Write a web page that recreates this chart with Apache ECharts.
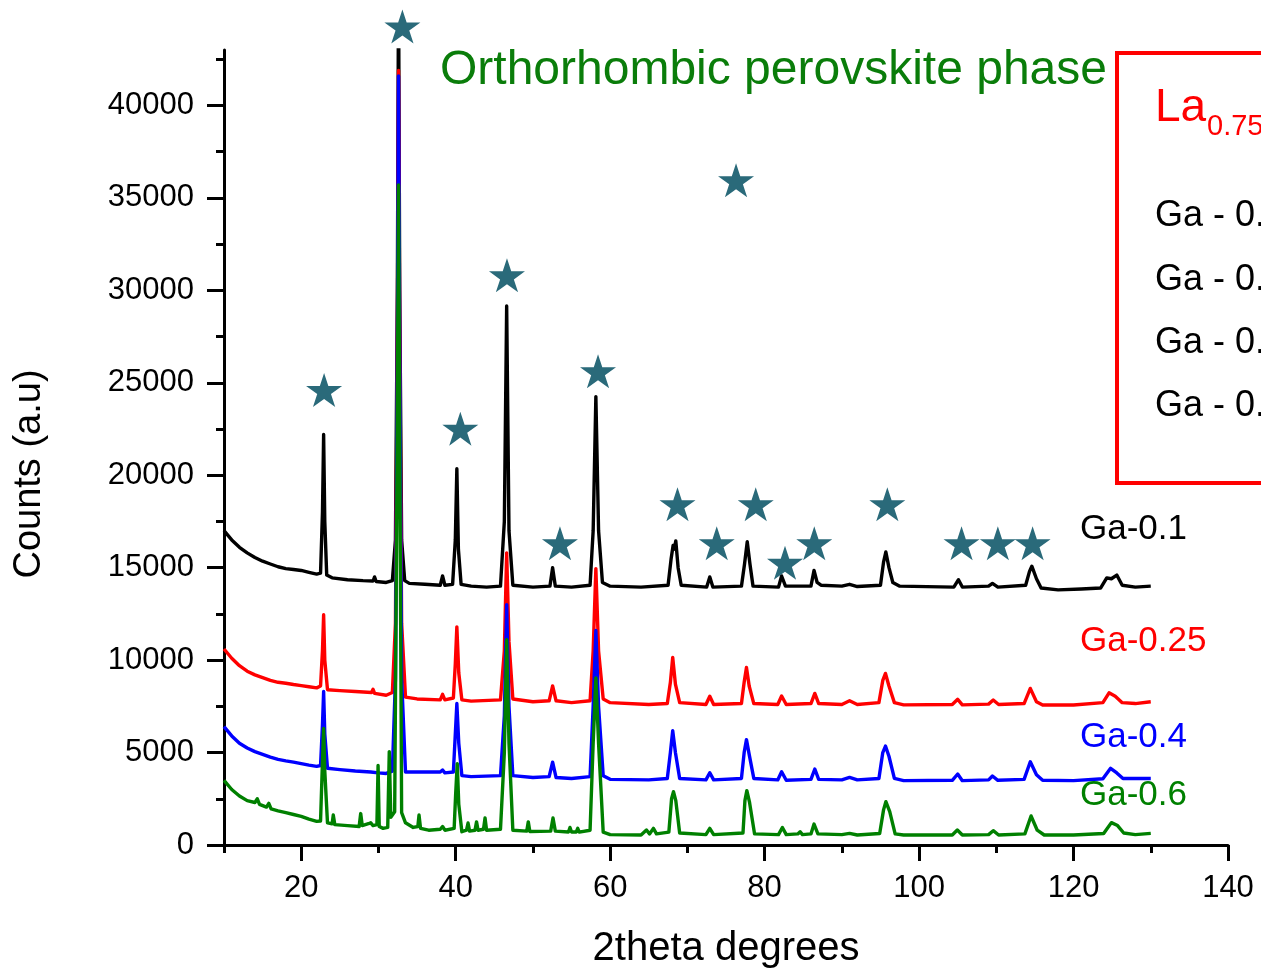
<!DOCTYPE html>
<html>
<head>
<meta charset="utf-8">
<script src="https://cdn.jsdelivr.net/npm/echarts@6/dist/echarts.min.js"></script>
<style>
html, body { margin: 0; padding: 0; background: #fff; }
#main { width: 1261px; height: 968px; }
</style>
</head>
<body>
<div id="main"></div>
<script>
// tick values
var xMajor = [20, 40, 60, 80, 100, 120, 140];
var xMinor = [10, 30, 50, 70, 90, 110, 130];
var yMajor = [0, 5000, 10000, 15000, 20000, 25000, 30000, 35000, 40000];
var yMinor = [2500, 7500, 12500, 17500, 22500, 27500, 32500, 37500, 42500];

// Ga-0.1 (black)
var ga01 = [[10,17000],[11,16500],[12,16100],[13,15800],[14,15550],[15,15350],[16,15200],[17,15050],[18,14950],[19,14900],[20,14850],[21,14750],[22,14650],[22.5,14700],[22.75,18000],[22.9,22200],[23.05,17500],[23.3,14600],[24,14450],[26,14350],[28,14300],[29.3,14280],[29.5,14500],[29.7,14250],[31,14200],[31.8,14300],[32.2,16500],[32.45,30000],[32.6,47000],[32.75,30000],[33.0,16500],[33.4,14300],[34,14150],[36,14100],[38,14050],[38.3,14550],[38.6,14050],[39.6,14100],[39.95,16500],[40.15,20350],[40.35,16000],[40.7,14100],[42,14000],[44,13950],[45.8,14000],[46.3,17500],[46.6,29150],[46.9,17000],[47.4,14050],[50,13950],[52.2,14000],[52.55,15000],[52.9,14000],[55,13950],[57.4,14050],[57.8,17000],[58.15,24250],[58.5,17000],[59.0,14200],[60,14000],[64,13950],[67.5,14050],[67.9,15500],[68.15,16200],[68.3,16000],[68.5,16450],[68.8,15000],[69.2,14050],[72.5,13950],[72.9,14500],[73.3,13950],[77.0,14000],[77.4,15200],[77.75,16400],[78.1,15200],[78.5,14000],[81.8,13950],[82.2,14550],[82.7,14000],[86.0,14000],[86.4,14850],[86.8,14200],[87.3,14050],[90,14000],[91,14100],[92,13980],[95.0,14050],[95.4,15300],[95.7,15850],[96.1,15000],[96.6,14200],[97.5,14000],[104.5,13950],[105.1,14350],[105.6,13950],[109.0,14000],[109.5,14150],[110.2,13950],[113.8,14050],[114.3,14800],[114.6,15080],[115.2,14400],[115.8,13900],[118,13800],[121,13850],[123.5,13900],[124.3,14450],[124.9,14400],[125.6,14600],[126.3,14050],[128,13950],[130,14000]];

// Ga-0.25 (red)
var ga025 = [[10,10600],[11,10100],[12,9700],[13,9400],[14,9200],[15,9050],[16,8900],[17,8800],[18,8750],[19,8680],[20,8620],[21,8560],[22,8500],[22.5,8600],[22.75,10500],[22.9,12450],[23.05,10000],[23.4,8400],[25,8350],[27,8300],[29.1,8250],[29.3,8420],[29.5,8200],[31,8100],[31.8,8250],[32.2,12000],[32.45,28000],[32.6,41900],[32.75,28000],[33.0,12000],[33.5,8000],[35,7900],[38.0,7850],[38.3,8150],[38.6,7850],[39.7,7950],[39.95,9800],[40.15,11800],[40.4,9300],[40.8,7850],[42,7780],[45.8,7850],[46.3,10500],[46.6,15800],[46.9,11000],[47.4,7900],[50,7750],[52.1,7800],[52.55,8600],[53.0,7800],[55,7700],[57.4,7800],[57.8,10500],[58.15,14950],[58.5,10500],[59.1,7900],[60,7700],[65,7600],[67.4,7650],[67.8,8800],[68.1,10150],[68.45,8700],[69.0,7700],[72.4,7600],[72.9,8050],[73.4,7600],[77.0,7650],[77.35,8800],[77.65,9600],[78.0,8600],[78.6,7650],[81.7,7600],[82.2,8060],[82.8,7600],[86.0,7650],[86.5,8200],[87.0,7650],[90.0,7600],[91.0,7800],[92.0,7600],[94.8,7700],[95.3,8900],[95.65,9280],[96.1,8600],[96.8,7700],[98,7580],[104.3,7600],[105.0,7880],[105.6,7580],[109.0,7620],[109.6,7840],[110.3,7600],[113.6,7650],[114.4,8470],[115.2,7750],[116.0,7570],[120,7570],[123.8,7700],[124.6,8230],[125.4,8050],[126.3,7700],[128,7650],[130,7750]];

// Ga-0.4 (blue)
var ga04 = [[10,6400],[11,5900],[12,5500],[13,5250],[14,5050],[15,4900],[16,4750],[17,4630],[18,4550],[19,4480],[20,4400],[21,4320],[22,4250],[22.5,4300],[22.75,6500],[22.9,8300],[23.05,6000],[23.4,4150],[25,4080],[27,4000],[29,3950],[30,3900],[31,3870],[31.8,4000],[32.2,9000],[32.45,27000],[32.6,41600],[32.75,27000],[33.0,9000],[33.5,3950],[35,3950],[38.0,3950],[38.3,4060],[38.6,3900],[39.7,3950],[39.95,6000],[40.15,7650],[40.4,5500],[40.8,3750],[42,3700],[45.8,3750],[46.3,7000],[46.6,13000],[46.9,7500],[47.4,3750],[50,3650],[52.1,3700],[52.55,4480],[53.0,3650],[55,3600],[57.4,3700],[57.8,7500],[58.15,11600],[58.5,7500],[59.1,3750],[60,3550],[65,3520],[67.4,3600],[67.8,5000],[68.1,6180],[68.45,5000],[69.0,3600],[72.4,3520],[72.9,3910],[73.4,3520],[77.0,3600],[77.35,5000],[77.65,5700],[78.0,4900],[78.6,3600],[81.7,3520],[82.2,3960],[82.8,3500],[86.0,3550],[86.5,4110],[87.0,3550],[90.0,3520],[91.0,3660],[92.0,3520],[94.8,3600],[95.3,5000],[95.65,5350],[96.1,4800],[96.8,3600],[98,3480],[104.3,3500],[105.0,3840],[105.6,3480],[109.0,3520],[109.5,3730],[110.2,3500],[113.6,3550],[114.4,4500],[115.2,3800],[116.0,3500],[120,3480],[123.8,3580],[124.8,4150],[125.6,3900],[126.4,3600],[130,3600]];

// Ga-0.6 (green)
var ga06 = [[10,3500],[11,3000],[12,2650],[13,2400],[14,2300],[14.3,2500],[14.6,2200],[15.5,2050],[15.8,2250],[16.1,1950],[17,1850],[18,1750],[19,1650],[20,1550],[21,1400],[22,1280],[22.5,1300],[22.75,4500],[22.9,6300],[23.05,4000],[23.4,1200],[24.0,1150],[24.15,1620],[24.35,1100],[26,1050],[27.5,1000],[27.7,1700],[27.9,1050],[28.7,1150],[29,1200],[29.3,1050],[29.8,1100],[29.95,4300],[30.1,1000],[30.6,900],[31.2,950],[31.4,5050],[31.6,1500],[32.1,1800],[32.4,20000],[32.6,35700],[32.8,18000],[33.0,1750],[33.5,1200],[34.5,950],[35.1,1000],[35.25,1620],[35.45,900],[36.5,800],[38.0,850],[38.3,1000],[38.6,800],[39.8,900],[40.0,2800],[40.2,4400],[40.4,2200],[40.8,720],[41.4,800],[41.6,1190],[41.8,750],[42.5,800],[42.7,1250],[42.9,800],[43.6,850],[43.8,1460],[44.0,800],[45.8,850],[46.3,5000],[46.6,11100],[46.9,5500],[47.4,800],[49.2,750],[49.4,1250],[49.6,730],[52.3,750],[52.6,1460],[52.9,750],[54.6,700],[54.8,950],[55.0,700],[55.6,700],[55.8,900],[56,700],[57.4,800],[57.8,5500],[58.15,9040],[58.5,5500],[59.1,700],[60,560],[64.0,540],[64.7,810],[65.1,600],[65.6,900],[66.0,600],[67.6,700],[67.95,2500],[68.2,2880],[68.5,2400],[69.0,650],[72.4,560],[72.9,900],[73.4,560],[77.2,650],[77.45,2400],[77.7,2940],[78.05,2300],[78.7,600],[81.8,560],[82.3,950],[82.8,560],[84.3,600],[84.6,720],[84.9,560],[86.0,600],[86.4,1130],[86.9,600],[90.0,560],[91.0,630],[92.0,540],[94.9,620],[95.4,1900],[95.7,2340],[96.2,1800],[96.9,600],[98,540],[104.3,540],[104.95,810],[105.6,540],[109.0,560],[109.6,775],[110.3,540],[113.7,600],[114.5,1570],[115.3,800],[116.2,540],[120,540],[123.9,620],[124.9,1210],[125.7,1050],[126.5,650],[128,560],[130,630]];

// star markers (orthorhombic perovskite reflections)
var stars = [[22.96,24610],[33.1,44270],[40.6,22520],[46.64,30810],[53.5,16320],[58.43,25620],[68.72,18430],[73.8,16320],[76.3,35950],[78.85,18430],[82.64,15260],[86.43,16320],[95.89,18430],[105.5,16320],[110.2,16320],[114.7,16320]];

var seriesNames = ['Ga-0.1', 'Ga-0.25', 'Ga-0.4', 'Ga-0.6'];
var seriesColors = ['#000000', '#ff0000', '#0000ff', '#008000'];
var legendRows = ['Ga - 0.1', 'Ga - 0.25', 'Ga - 0.4', 'Ga - 0.6'];

var FONT = '"Liberation Sans", Arial, sans-serif';
var starPath = 'path://M100,0 L122.45,69.1 L195.1,69.1 L136.3,111.8 L158.8,180.9 L100,138.2 L41.2,180.9 L63.7,111.8 L4.9,69.1 L77.55,69.1 Z';

var chart = echarts.init(document.getElementById('main'), null, {renderer: 'canvas'});

function lineSeries(name, data, color) {
	return {
		name: name,
		type: 'line',
		data: data,
		showSymbol: false,
		symbol: 'none',
		smooth: false,
		lineStyle: {color: color, width: 3.4, join: 'round'},
		itemStyle: {color: color},
		animation: false
	};
}

function txt(text, x, y, size, color) {
	return {
		type: 'text',
		x: x,
		y: y,
		z: 100,
		style: {
			text: text,
			font: size + 'px ' + FONT,
			fill: color,
			align: 'left',
			verticalAlign: 'middle',
			textAlign: 'left',
			textVerticalAlign: 'middle'
		}
	};
}

var graphics = [
	txt('Orthorhombic perovskite phase', 440, 71, 48, '#0a7d0a'),
	{
		type: 'rect',
		z: 90,
		shape: {x: 1117, y: 53, width: 300, height: 430},
		style: {fill: 'none', stroke: '#ff0000', lineWidth: 4}
	},
	txt('La', 1155, 108, 46, '#ff0000'),
	txt('0.75', 1207, 127, 29, '#ff0000'),
	{
		type: 'text',
		x: 30,
		y: 474,
		rotation: Math.PI / 2,
		z: 100,
		style: {
			text: 'Counts (a.u)',
			font: '38px ' + FONT,
			fill: '#000',
			align: 'center',
			verticalAlign: 'middle',
			textAlign: 'center',
			textVerticalAlign: 'middle'
		}
	}
];
var legendY = [216, 280, 343, 406];
for (var i = 0; i < legendRows.length; i++) {
	graphics.push(txt(legendRows[i], 1155, legendY[i], 36, '#000'));
}
var labelY = [529, 641, 737, 795];
for (var j = 0; j < seriesNames.length; j++) {
	graphics.push(txt(seriesNames[j], 1080, labelY[j], 35, seriesColors[j]));
}

var series = [];
series.push(lineSeries(seriesNames[0], ga01, seriesColors[0]));
series.push(lineSeries(seriesNames[1], ga025, seriesColors[1]));
series.push(lineSeries(seriesNames[2], ga04, seriesColors[2]));
series.push(lineSeries(seriesNames[3], ga06, seriesColors[3]));
series.push({
	name: 'stars',
	type: 'scatter',
	data: stars,
	symbol: starPath,
	symbolSize: [36, 34],
	clip: false,
	z: 5,
	itemStyle: {color: '#2a6a7a', opacity: 1},
	animation: false
});

function plain(v) { return String(v); }

chart.setOption({
	backgroundColor: '#ffffff',
	animation: false,
	grid: {left: 224, right: 33, top: 50, bottom: 123, containLabel: false, outerBoundsMode: 'none'},
	xAxis: [{
		type: 'value',
		min: 10,
		max: 140,
		position: 'bottom',
		name: '2theta degrees',
		nameLocation: 'middle',
		nameGap: 84,
		nameTextStyle: {fontSize: 40, fontFamily: FONT, color: '#000'},
		axisLine: {show: true, onZero: false, lineStyle: {color: '#000', width: 3}},
		axisTick: {show: true, customValues: xMajor, length: 16, lineStyle: {color: '#000', width: 3}},
		axisLabel: {customValues: xMajor, formatter: plain, fontSize: 31, fontFamily: FONT, color: '#000', margin: 28},
		splitLine: {show: false}
	}, {
		type: 'value',
		min: 10,
		max: 140,
		position: 'bottom',
		axisLine: {show: false},
		axisTick: {show: true, customValues: xMinor, length: 8, lineStyle: {color: '#000', width: 3}},
		axisLabel: {show: false},
		splitLine: {show: false}
	}],
	yAxis: [{
		type: 'value',
		min: 0,
		max: 43000,
		position: 'left',
		axisLine: {show: true, onZero: false, lineStyle: {color: '#000', width: 3}},
		axisTick: {show: true, customValues: yMajor, length: 17, lineStyle: {color: '#000', width: 3}},
		axisLabel: {customValues: yMajor, formatter: plain, fontSize: 31, fontFamily: FONT, color: '#000', margin: 30},
		splitLine: {show: false}
	}, {
		type: 'value',
		min: 0,
		max: 43000,
		position: 'left',
		axisLine: {show: false},
		axisTick: {show: true, customValues: yMinor, length: 8, lineStyle: {color: '#000', width: 3}},
		axisLabel: {show: false},
		splitLine: {show: false}
	}],
	series: series,
	graphic: graphics
});
</script>
</body>
</html>
